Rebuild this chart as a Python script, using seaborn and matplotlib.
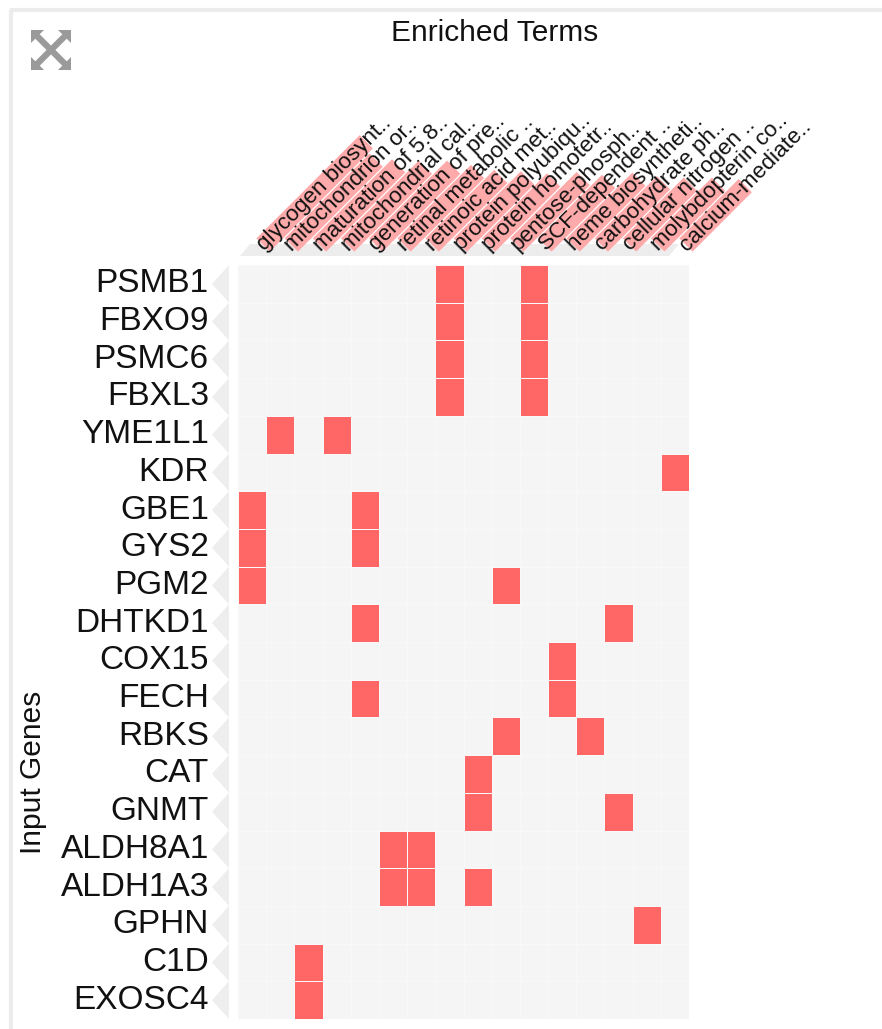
import numpy as np
import pandas as pd
import matplotlib
matplotlib.use("Agg")
import matplotlib.pyplot as plt
from matplotlib.colors import ListedColormap
from matplotlib.patches import Polygon
import seaborn as sns

# ---- data -------------------------------------------------------------
genes = ["PSMB1", "FBXO9", "PSMC6", "FBXL3", "YME1L1", "KDR", "GBE1", "GYS2",
         "PGM2", "DHTKD1", "COX15", "FECH", "RBKS", "CAT", "GNMT", "ALDH8A1",
         "ALDH1A3", "GPHN", "C1D", "EXOSC4"]

terms = ["glycogen biosynt..", "mitochondrion or..", "maturation of 5.8..",
         "mitochondrial cal..", "generation of pre..", "retinal metabolic ..",
         "retinoic acid met..", "protein polyubiqu..", "protein homotetr..",
         "pentose-phosph..", "SCF-dependent ..", "heme biosyntheti..",
         "carbohydrate ph..", "cellular nitrogen ..", "molybdopterin co..",
         "calcium-mediate.."]

# relative enrichment score of each term (drawn as the band behind its label)
term_scores = [146, 120, 112, 110, 110, 104, 97, 95, 92, 94, 90, 93, 88, 86, 86, 84]

# gene x term membership
membership = [
    [0, 0, 0, 0, 0, 0, 0, 1, 0, 0, 1, 0, 0, 0, 0, 0],  # PSMB1
    [0, 0, 0, 0, 0, 0, 0, 1, 0, 0, 1, 0, 0, 0, 0, 0],  # FBXO9
    [0, 0, 0, 0, 0, 0, 0, 1, 0, 0, 1, 0, 0, 0, 0, 0],  # PSMC6
    [0, 0, 0, 0, 0, 0, 0, 1, 0, 0, 1, 0, 0, 0, 0, 0],  # FBXL3
    [0, 1, 0, 1, 0, 0, 0, 0, 0, 0, 0, 0, 0, 0, 0, 0],  # YME1L1
    [0, 0, 0, 0, 0, 0, 0, 0, 0, 0, 0, 0, 0, 0, 0, 1],  # KDR
    [1, 0, 0, 0, 1, 0, 0, 0, 0, 0, 0, 0, 0, 0, 0, 0],  # GBE1
    [1, 0, 0, 0, 1, 0, 0, 0, 0, 0, 0, 0, 0, 0, 0, 0],  # GYS2
    [1, 0, 0, 0, 0, 0, 0, 0, 0, 1, 0, 0, 0, 0, 0, 0],  # PGM2
    [0, 0, 0, 0, 1, 0, 0, 0, 0, 0, 0, 0, 0, 1, 0, 0],  # DHTKD1
    [0, 0, 0, 0, 0, 0, 0, 0, 0, 0, 0, 1, 0, 0, 0, 0],  # COX15
    [0, 0, 0, 0, 1, 0, 0, 0, 0, 0, 0, 1, 0, 0, 0, 0],  # FECH
    [0, 0, 0, 0, 0, 0, 0, 0, 0, 1, 0, 0, 1, 0, 0, 0],  # RBKS
    [0, 0, 0, 0, 0, 0, 0, 0, 1, 0, 0, 0, 0, 0, 0, 0],  # CAT
    [0, 0, 0, 0, 0, 0, 0, 0, 1, 0, 0, 0, 0, 1, 0, 0],  # GNMT
    [0, 0, 0, 0, 0, 1, 1, 0, 0, 0, 0, 0, 0, 0, 0, 0],  # ALDH8A1
    [0, 0, 0, 0, 0, 1, 1, 0, 1, 0, 0, 0, 0, 0, 0, 0],  # ALDH1A3
    [0, 0, 0, 0, 0, 0, 0, 0, 0, 0, 0, 0, 0, 0, 1, 0],  # GPHN
    [0, 0, 1, 0, 0, 0, 0, 0, 0, 0, 0, 0, 0, 0, 0, 0],  # C1D
    [0, 0, 1, 0, 0, 0, 0, 0, 0, 0, 0, 0, 0, 0, 0, 0],  # EXOSC4
]

title = "Enriched Terms"
row_title = "Input Genes"

# ---- style ------------------------------------------------------------
sns.set_style("white")
plt.rcParams["font.family"] = ["Liberation Sans", "DejaVu Sans"]

W, H = 882, 1029
fig = plt.figure(figsize=(W / 100, H / 100), dpi=100)

# pixel-space layer for frame, headers and decorations
over = fig.add_axes([0, 0, 1, 1], zorder=0)
over.set_xlim(0, W)
over.set_ylim(H, 0)
over.axis("off")

# heatmap body
ax = fig.add_axes([238 / W, 1 - 1019 / H, 451 / W, 754 / H], zorder=1)
df = pd.DataFrame(membership, index=genes, columns=terms)
cmap = ListedColormap(["#f5f5f5", "#ff6666"])
sns.heatmap(df, ax=ax, cmap=cmap, vmin=0, vmax=1, cbar=False,
            linewidths=0.5, linecolor="#f8f8f8",
            xticklabels=False, yticklabels=True)
ax.set_xlabel("")
ax.set_ylabel("")
ax.set_yticklabels(genes, rotation=0, fontsize=24, color="#111111")
ax.tick_params(axis="y", length=0, pad=21)

# geometry of the heatmap in pixels
pos = ax.get_position()
x0 = pos.x0 * W
x1 = pos.x1 * W
top = (1 - pos.y1) * H
bottom = (1 - pos.y0) * H
ncol, nrow = len(terms), len(genes)
cw = (x1 - x0) / ncol
rh = (bottom - top) / nrow

# frame around the widget
over.plot([10, W], [10, 10], color="#ececec", lw=3, solid_capstyle="butt")
over.plot([11, 11], [10, H], color="#ececec", lw=3, solid_capstyle="butt")

# expand icon
icon_c = "#9a9a9a"
cx, cy, r = 51, 50, 20
over.plot([cx - r + 4, cx + r - 4], [cy - r + 4, cy + r - 4], color=icon_c, lw=4.5)
over.plot([cx - r + 4, cx + r - 4], [cy + r - 4, cy - r + 4], color=icon_c, lw=4.5)
for sx in (-1, 1):
    for sy in (-1, 1):
        px, py = cx + sx * r, cy + sy * r
        over.add_patch(Polygon([(px, py), (px - sx * 13, py), (px, py - sy * 13)],
                               closed=True, color=icon_c, lw=0))

# row pointers next to the gene names
for i in range(nrow):
    yc = top + (i + 0.5) * rh
    over.add_patch(Polygon([(x0 - 26, yc), (x0 - 9, yc - rh / 2), (x0 - 9, yc + rh / 2)],
                           closed=True, color="#eeeeee", lw=0))

# header strip under the term labels
base_y = top - 10
over.add_patch(Polygon([(x0 + 2, top - 9), (x1 - 20, top - 9),
                        (x1 - 10, top - 21), (x0 + 12, top - 21)],
                       closed=True, color="#ededed", lw=0))

# term labels with score bands
u = np.array([1, -1]) / np.sqrt(2)   # along the label (up-right on screen)
v = np.array([1, 1]) / np.sqrt(2)    # across the label
half_w = cw / np.sqrt(2) / 2 - 0.6
for j, (term, score) in enumerate(zip(terms, term_scores)):
    p0 = np.array([x0 + (j + 0.5) * cw + 11, base_y - 10])
    length = score  # band length in pixels follows the score
    corners = [p0 - half_w * v, p0 + half_w * v,
               p0 + length * u + half_w * v, p0 + length * u - half_w * v]
    over.add_patch(Polygon(corners, closed=True, color="#ffaaaa", lw=0, zorder=2))
    tp = p0 - 4 * u
    over.text(tp[0], tp[1], term, rotation=45, rotation_mode="anchor",
              ha="left", va="center", fontsize=16.2, color="#111111", zorder=3)

# titles
over.text((x0 + x1) / 2 + 31, 33, title, ha="center", va="center",
          fontsize=21.5, color="#111111")
over.text(33, 772, row_title, rotation=90, ha="center", va="center",
          fontsize=21.5, color="#111111")

fig.savefig("out.png", dpi=100)
